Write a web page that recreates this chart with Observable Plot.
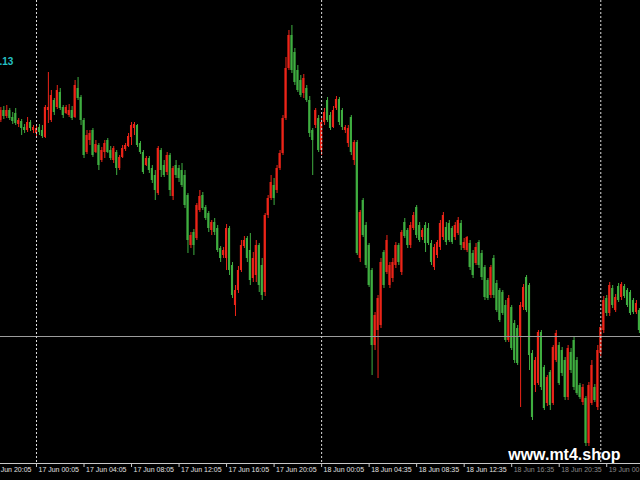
<!DOCTYPE html>
<html>
<head>
<meta charset="utf-8">
<script src="https://cdn.jsdelivr.net/npm/d3@7"></script>
<script src="https://cdn.jsdelivr.net/npm/@observablehq/plot@0.6"></script>
<style>
  html, body { margin: 0; padding: 0; background: #000; overflow: hidden; }
  #chart svg { display: block; }
</style>
</head>
<body>
<div id="chart"></div>
<script>
// M15 candles (price in points above an arbitrary base), one entry per bar
const opens = [380,390,384,390,383,387,376,379,373,370,378,370,367,373,370,363,390,380,400,393,408,393,387,385,390,383,412,403,380,348,360,370,348,355,340,348,360,350,340,348,332,343,351,354,363,372,375,357,348,335,342,332,325,307,350,335,328,345,304,335,332,330,325,305,255,268,262,290,305,293,287,270,278,272,252,245,242,272,235,195,210,230,254,262,250,222,225,255,235,208,285,302,315,310,332,347,382,432,465,448,430,420,407,412,400,370,375,382,350,378,400,385,373,392,401,390,370,357,383,340,358,242,300,275,255,230,155,170,175,248,228,215,222,235,255,228,278,270,255,272,293,275,263,275,272,257,233,245,253,263,273,277,272,263,267,277,252,250,257,247,237,258,247,233,220,205,242,217,210,208,195,160,193,177,172,163,193,223,215,147,115,117,168,133,97,128,97,140,155,150,140,103,148,160,140,115,98,102,57,97,113,93,147,170,202,187,212,190,214,203,214,210,208,200,188,190,163];
const highs = [393,394,395,392,388,392,382,381,376,383,380,375,374,376,375,395,428,410,402,415,412,395,395,396,394,420,423,405,382,370,370,372,360,357,353,360,362,354,354,350,345,355,357,367,378,378,376,359,350,344,344,335,330,354,352,340,348,347,334,340,335,337,330,307,268,271,297,310,308,295,289,280,282,275,254,253,276,274,238,215,234,260,264,264,267,248,260,257,242,287,305,325,322,335,350,385,443,470,475,452,435,425,426,415,404,372,392,385,382,392,403,388,394,404,403,392,375,375,385,360,360,290,302,278,257,232,188,205,242,250,265,238,242,258,257,270,282,272,278,288,295,278,272,278,277,260,256,260,280,288,278,280,274,278,283,280,262,264,260,250,257,260,250,235,222,235,245,220,212,210,200,205,195,180,175,198,216,225,217,150,143,170,170,135,125,130,155,170,158,153,143,155,152,163,143,117,116,104,118,140,116,155,175,204,205,218,215,206,217,218,216,212,210,202,200,192,175];
const lows = [378,381,382,380,376,375,373,365,367,368,369,367,363,365,362,362,377,378,385,391,390,382,386,383,380,382,400,375,342,346,355,343,347,330,338,342,347,340,337,325,330,342,349,353,355,365,353,346,326,334,327,317,300,305,323,323,325,304,300,322,318,313,292,247,252,245,260,288,290,280,268,265,265,248,238,242,230,225,202,184,207,228,252,238,215,218,218,208,200,204,282,300,295,307,330,345,380,430,427,415,408,403,402,398,363,325,372,348,345,375,378,370,372,390,375,370,367,353,345,335,245,238,263,232,213,125,150,122,172,212,226,212,218,232,235,225,262,252,252,270,262,258,260,248,255,235,230,242,250,260,255,258,256,260,265,250,250,248,230,222,235,232,220,200,200,202,202,188,178,185,158,158,150,137,135,93,190,188,130,80,108,115,110,90,94,90,95,138,115,124,100,100,127,110,105,101,95,54,54,95,98,90,144,167,184,184,192,188,198,200,202,193,185,186,186,167,161];
const closes = [390,384,390,382,379,377,380,372,370,378,372,373,372,368,364,393,393,405,388,410,392,385,393,390,382,415,402,380,345,365,367,345,356,335,350,357,348,342,352,332,343,352,355,364,375,376,355,348,328,342,330,320,310,352,330,325,345,310,332,325,322,315,295,260,265,255,295,304,292,282,272,278,268,250,242,250,272,230,205,210,230,255,260,242,220,242,255,215,205,285,302,318,302,332,347,382,432,465,430,418,410,405,422,400,367,360,390,350,378,388,380,372,390,401,378,373,373,372,348,358,247,288,265,235,215,155,185,202,238,215,260,235,238,255,238,268,264,255,275,285,265,260,270,257,257,238,253,258,277,285,258,260,258,275,280,255,258,263,233,225,253,235,223,203,202,233,205,190,180,187,160,202,152,140,137,195,213,190,145,83,140,168,113,92,123,95,153,167,117,127,103,152,130,113,107,103,113,57,115,135,100,150,173,200,187,215,195,203,200,216,204,195,187,188,197,170,173];

// time axis: labelled bars (every 16 bars = 4 hours) and day separators
const tickBars = [-4, 12, 28, 44, 60, 76, 92, 108, 124, 140, 156, 172, 188, 204];
const tickLabels = ["16 Jun 20:05", "17 Jun 00:05", "17 Jun 04:05", "17 Jun 08:05", "17 Jun 12:05", "17 Jun 16:05", "17 Jun 20:05", "18 Jun 00:05", "18 Jun 04:35", "18 Jun 08:35", "18 Jun 12:35", "18 Jun 16:35", "18 Jun 20:35", "19 Jun 00:35"];
const separatorBars = [12, 108, 202];
const bidLevel = [164];
const priceTag = [".13"];
const watermark = ["www.mt4.shop"];

const bars = opens.map((o, i) => ({i, o, h: highs[i], l: lows[i], c: closes[i]}));
const UP = "#ec2418", DOWN = "#3fae40";
const col = d => d.c >= d.o ? UP : DOWN;

const chart = Plot.plot({
  width: 640,
  height: 480,
  marginTop: 0,
  marginRight: 0,
  marginBottom: 17,
  marginLeft: 0,
  style: {background: "#000", color: "#ddd", fontFamily: "Liberation Sans, Arial, sans-serif"},
  x: {domain: [-0.12, 215.37], axis: null},
  y: {domain: [37, 500], axis: null},
  marks: [
    Plot.ruleX(bars, {x: "i", y1: "l", y2: "h", stroke: col, strokeWidth: 1}),
    Plot.rect(bars, {x1: d => d.i - 0.36, x2: d => d.i + 0.36, y1: "o", y2: "c", fill: col}),
    Plot.ruleY(bidLevel, {stroke: "#9c9c9c", strokeWidth: 1}),
    Plot.ruleX(separatorBars, {stroke: "#dcdcdc", strokeDasharray: "2,2", strokeWidth: 1}),
    Plot.ruleY([37], {stroke: "#c8c8c8", strokeWidth: 1}),
    Plot.axisX(tickBars, {tickSize: 4, tickFormat: () => "", stroke: "#c8c8c8", label: null}),
    Plot.text(tickBars, {
      x: d => d, frameAnchor: "bottom", dy: 4, dx: 2, lineAnchor: "top", textAnchor: "start",
      text: (d, i) => tickLabels[i],
      fill: (d, i) => i >= 11 ? "#8a8a8a" : "#e0e0e0",
      fontSize: 7
    }),
    Plot.text(priceTag, {text: d => d, frameAnchor: "top-left", dy: 61, dx: -1, textAnchor: "start", lineAnchor: "middle", fill: "#25c2c6", fontSize: 10, fontWeight: "bold"}),
    Plot.text(watermark, {text: d => d, frameAnchor: "bottom-right", dx: -20, dy: -4, textAnchor: "end", lineAnchor: "bottom", fill: "#ffffff", fontSize: 16, fontWeight: "bold"})
  ]
});
document.getElementById("chart").appendChild(chart);
</script>
</body>
</html>
